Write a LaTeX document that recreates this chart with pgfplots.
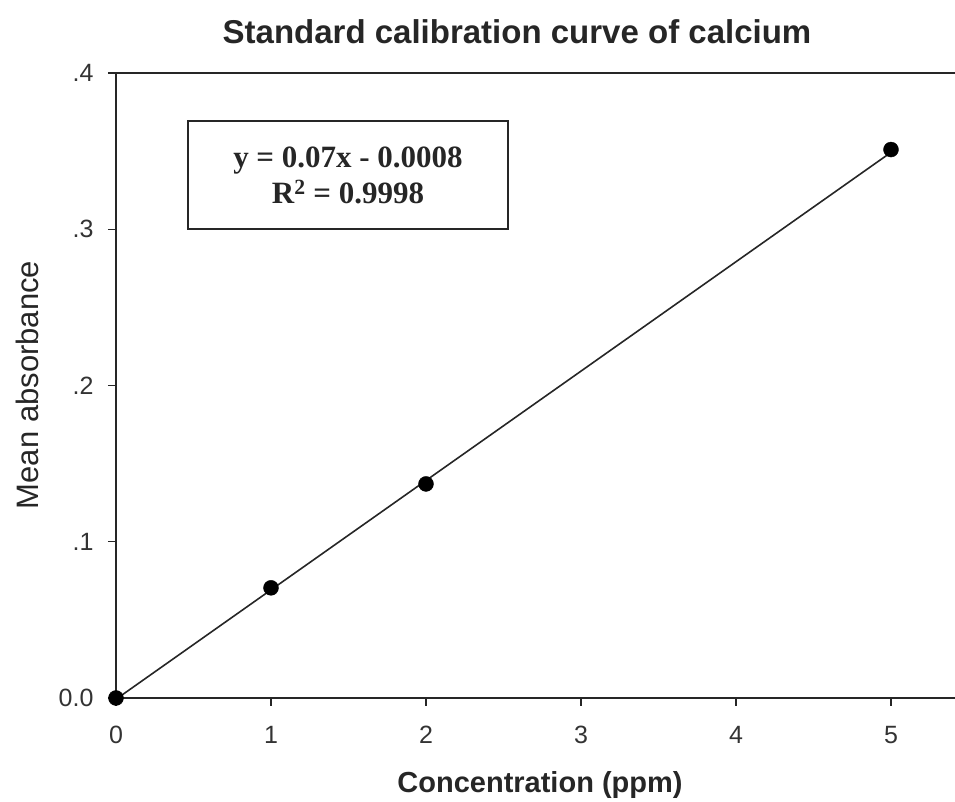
\documentclass[border=0pt]{standalone}
\usepackage{pgfplots}
\pgfplotsset{compat=1.18}
\usepackage{fontspec}
\setmainfont{Liberation Sans}
\newfontfamily\timesfont{Liberation Serif}
\begin{document}
\begin{tikzpicture}[x=1pt,y=1pt]
\begin{axis}[
  at={(0,0)}, anchor=origin,
  scale only axis, width=839pt, height=625pt,
  xmin=0, xmax=5.413, ymin=0, ymax=0.4,
  axis x line=box, axis y line=left,
  axis line style={-, line width=1.6pt, black!85},
  xtick={0,1,2,3,4,5}, xticklabels={0,1,2,3,4,5},
  ytick={0,0.1,0.2,0.3,0.4}, yticklabels={0.0,.1,.2,.3,.4},
  tick align=outside, major tick length=8pt,
  tick style={line width=1.4pt, black!85},
  xtick pos=bottom, ytick pos=left,
  ticklabel style={font=\fontsize{25}{28}\selectfont, text=black!80},
  xticklabel style={yshift=-17pt},
  yticklabel style={xshift=-11pt},
  clip=false,
]
\addplot[black!85, line width=1.6pt] coordinates {(0,-0.0008) (5,0.3492)};
\addplot[only marks, mark=*, mark size=7.5pt, black] coordinates {
  (0,0) (1,0.0705) (2,0.137) (5,0.351)};
\end{axis}
\node[font=\bfseries\fontsize{33}{37}\selectfont, text=black!85] at (401,666) {Standard calibration curve of calcium};
\node[font=\bfseries\fontsize{29}{32}\selectfont, text=black!85] at (424,-87) {Concentration (ppm)};
\node[font=\fontsize{31}{34}\selectfont, text=black!85, rotate=90] at (-89,313) {Mean absorbance};
\node[draw=black!85, line width=1.3pt, minimum width=320pt, minimum height=108pt, inner sep=0pt] at (232,523) {};
\node[font=\timesfont\bfseries\fontsize{31}{36}\selectfont, text=black!85, align=center] at (232,523) {y = 0.07x - 0.0008\\R\textsuperscript{2} = 0.9998};
\pgfresetboundingbox
\useasboundingbox (-116,-104) rectangle (839,698);
\end{tikzpicture}
\end{document}
